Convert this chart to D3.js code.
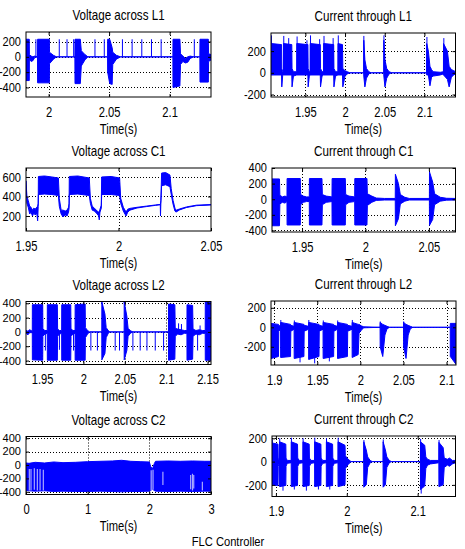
<!DOCTYPE html>
<html>
<head>
<meta charset="utf-8">
<script src="https://cdn.jsdelivr.net/npm/d3@7"></script>
<style>
  body { margin: 0; background: #fff; }
  text { font-family: "Liberation Sans", Arial, sans-serif; fill: #000; }
</style>
</head>
<body>
<svg width="465" height="549"></svg>
<script>
// ---- titles ----
const titles = ["Voltage across L1", "Current through L1", "Voltage across C1", "Current through C1",
                "Voltage across L2", "Current through L2", "Voltage across C2", "Current through C2"];
const footer = "FLC Controller";

// ---- axes (ranges and ticks) ----
const vL1XDomain = [1.9813, 2.1342], vL1YDomain = [-525, 325];
const vL1XTicks = [2, 2.05, 2.1], vL1YTicks = [-400, -200, 0, 200];
const iL1XDomain = [1.9067, 2.1392], iL1YDomain = [-223, 367];
const iL1XTicks = [1.95, 2, 2.05, 2.1], iL1YTicks = [-200, 0, 200];
const vC1XDomain = [1.95, 2.05], vC1YDomain = [46, 692];
const vC1XTicks = [1.95, 2, 2.05], vC1YTicks = [200, 400, 600];
const iC1XDomain = [1.9263, 2.071], iC1YDomain = [-420, 400];
const iC1XTicks = [1.95, 2, 2.05], iC1YTicks = [-400, -200, 0, 200, 400];
const vL2XDomain = [1.9306, 2.1542], vL2YDomain = [-455, 425];
const vL2XTicks = [1.95, 2, 2.05, 2.1, 2.15], vL2YTicks = [-400, -200, 0, 200, 400];
const iL2XDomain = [1.8963, 2.111], iL2YDomain = [-387, 270];
const iL2XTicks = [1.9, 1.95, 2, 2.05, 2.1], iL2YTicks = [-200, 0, 200];
const vC2XDomain = [0, 3], vC2YDomain = [-440, 425];
const vC2XTicks = [0, 1, 2, 3], vC2YTicks = [-400, -200, 0, 200, 400];
const iC2XDomain = [1.8945, 2.1534], iC2YDomain = [-300, 220];
const iC2XTicks = [1.9, 2, 2.1], iC2YTicks = [-200, 0, 200];

// ---- waveforms: envelope points [time, low, high] of the dense switching signal ----
const vL1Env = [
  [1.9813, -310, 230], [1.9840, -310, 230], [1.9841, -30, 30], [1.9855, -60, 10], [1.9870, -50, 0],
  [1.9885, -10, 10], [1.9908, 0, 0], [1.9909, -340, 230], [2.0006, -340, 230], [2.0007, -90, 60],
  [2.0040, -30, 20], [2.0065, 0, 0], [2.0217, 0, 0], [2.0218, -350, 230], [2.0262, -350, 230],
  [2.0270, -120, 80], [2.0300, -40, 30], [2.0325, 0, 0], [2.0487, 0, 0], [2.0488, -200, 230],
  [2.0505, -350, 230], [2.0525, -360, 120], [2.0530, -100, 60], [2.0560, -30, 20], [2.0595, 0, 0],
  [2.1027, 0, 0], [2.1028, -400, 230], [2.1085, -380, 230], [2.1090, -100, 40], [2.1110, -60, 10],
  [2.1130, -80, -20], [2.1150, -70, 0], [2.1170, -20, 10], [2.1200, 0, 0], [2.1250, 0, 0],
  [2.1251, -330, 230], [2.1320, -330, 230], [2.1322, -60, 40], [2.1342, -40, 30]
];
const vL1Spikes = [
  [1.9895, -10, 230], [2.0088, 0, 230], [2.0152, 0, 230], [2.0207, 0, 230], [2.0383, 0, 230],
  [2.0460, 0, 230], [2.0610, 0, 230], [2.0690, 0, 230], [2.0770, 0, 230], [2.0850, 0, 230],
  [2.0930, 0, 230], [2.1204, 0, 230]
];

const iL1Env = [
  [1.9067, -20, 270], [1.9200, -20, 260], [1.9203, -130, 40], [1.9215, -20, 10], [1.9223, -20, 10],
  [1.9224, -20, 270], [1.9329, -20, 260], [1.9332, -130, 40], [1.9350, -30, 10], [1.9391, -20, 10],
  [1.9392, -20, 270], [1.9532, -20, 260], [1.9535, -130, 40], [1.9550, -30, 10], [1.9560, -20, 10],
  [1.9561, -20, 270], [1.9688, -20, 260], [1.9691, -130, 40], [1.9710, -30, 10], [1.9729, -20, 10],
  [1.9730, -20, 270], [1.9857, -20, 260], [1.9860, -130, 40], [1.9880, -30, 10], [1.9910, -20, 10],
  [1.9911, -20, 270], [1.9968, -20, 260], [1.9972, -130, 40], [2.0000, -30, 20], [2.0030, -10, 10],
  [2.0060, 0, 0], [2.0235, 0, 0], [2.0236, -30, 300], [2.0250, -130, 120], [2.0270, -50, 40],
  [2.0300, -10, 10], [2.0330, 0, 0], [2.0488, 0, 0], [2.0489, -30, 300], [2.0503, -130, 120],
  [2.0525, -50, 40], [2.0555, -10, 10], [2.0590, 0, 0], [2.1028, 0, 0], [2.1029, -20, 270],
  [2.1050, -20, 200], [2.1070, -120, 60], [2.1090, -40, 30], [2.1110, -30, 10], [2.1200, -20, 5],
  [2.1240, -10, 10], [2.1241, -20, 270], [2.1290, -60, 200], [2.1312, -130, 60], [2.1340, -40, 30],
  [2.1370, -20, 20], [2.1392, -10, 10]
];
const iL1Spikes = [
  [1.9072, 0, 345], [1.9228, 0, 340], [1.9290, 0, 320], [1.9396, 0, 335], [1.9520, 0, 300],
  [1.9565, 0, 345], [1.9680, 0, 310], [1.9735, 0, 340], [1.9850, 0, 320], [1.9915, 0, 345],
  [2.0237, 0, 340], [2.0490, 0, 345], [2.1032, 0, 330], [2.1245, 0, 320]
];

const vC1Env = [
  [1.9500, 520, 560], [1.9505, 330, 400], [1.9512, 290, 360], [1.9520, 220, 300], [1.9527, 240, 290],
  [1.9535, 200, 260], [1.9542, 230, 280], [1.9550, 210, 270], [1.9558, 230, 290], [1.9563, 150, 300],
  [1.9566, 300, 330], [1.9567, 420, 605], [1.9600, 425, 610], [1.9640, 420, 600], [1.9675, 410, 590],
  [1.9680, 300, 380], [1.9690, 220, 260], [1.9700, 190, 260], [1.9712, 210, 250], [1.9722, 200, 260],
  [1.9730, 240, 290], [1.9733, 280, 330], [1.9734, 420, 605], [1.9780, 425, 610], [1.9842, 410, 590],
  [1.9848, 330, 380], [1.9858, 260, 300], [1.9870, 250, 280], [1.9885, 220, 250], [1.9893, 200, 240],
  [1.9896, 160, 240], [1.9900, 240, 270], [1.9907, 280, 310], [1.9909, 420, 600], [1.9960, 420, 605],
  [2.0006, 410, 590], [2.0012, 330, 380], [2.0026, 250, 290], [2.0041, 200, 240], [2.0050, 240, 270],
  [2.0062, 260, 278], [2.0100, 282, 289], [2.0150, 296, 301], [2.0200, 309, 313], [2.0226, 315, 319],
  [2.0227, 200, 320], [2.0229, 330, 360], [2.0233, 510, 640], [2.0255, 520, 645], [2.0278, 500, 620],
  [2.0285, 420, 480], [2.0295, 320, 360], [2.0305, 250, 280], [2.0311, 240, 258], [2.0330, 262, 272],
  [2.0368, 287, 293], [2.0422, 306, 311], [2.0500, 313, 317]
];

const iC1Env = [
  [1.9263, -340, 260], [1.9322, -340, 260], [1.9325, -60, 50], [1.9345, -40, 30], [1.9365, -50, 40],
  [1.9381, -30, 30], [1.9382, -330, 265], [1.9486, -330, 265], [1.9489, -70, 60], [1.9510, -40, 40],
  [1.9535, -30, 30], [1.9557, -30, 30], [1.9558, -330, 265], [1.9657, -330, 265], [1.9660, -70, 60],
  [1.9690, -40, 40], [1.9736, -30, 30], [1.9737, -330, 265], [1.9841, -330, 265], [1.9844, -70, 60],
  [1.9870, -40, 40], [1.9915, -30, 30], [1.9916, -330, 265], [2.0012, -330, 265], [2.0015, -80, 70],
  [2.0050, -40, 40], [2.0085, -15, 15], [2.0150, -10, 10], [2.0235, -10, 10], [2.0236, -340, 320],
  [2.0260, -250, 200], [2.0275, -60, 60], [2.0310, -25, 25], [2.0345, -10, 10], [2.0504, -10, 10],
  [2.0505, -335, 350], [2.0530, -260, 220], [2.0545, -70, 70], [2.0590, -25, 25], [2.0640, -12, 12],
  [2.0710, -10, 10]
];

const vL2Env = [
  [1.9306, -20, 20], [1.9330, -40, 10], [1.9350, -10, 30], [1.9382, -10, 10], [1.9383, -390, 380],
  [1.9508, -395, 380], [1.9510, -60, 40], [1.9535, -30, 20], [1.9563, -20, 20], [1.9564, -395, 380],
  [1.9685, -395, 380], [1.9688, -60, 40], [1.9710, -30, 20], [1.9737, -20, 20], [1.9738, -395, 380],
  [1.9847, -395, 380], [1.9850, -60, 40], [1.9875, -30, 20], [1.9899, -20, 20], [1.9900, -395, 380],
  [2.0021, -395, 390], [2.0024, -80, 60], [2.0050, -30, 20], [2.0075, 0, 0], [2.0222, 0, 0],
  [2.0223, -390, 420], [2.0260, -300, 250], [2.0275, -80, 60], [2.0300, -20, 20], [2.0320, 0, 0],
  [2.0492, 0, 0], [2.0493, -390, 420], [2.0525, -260, 220], [2.0540, -60, 50], [2.0570, -15, 15],
  [2.0600, 0, 0], [2.1028, 0, 0], [2.1029, -395, 390], [2.1105, -380, 380], [2.1110, -60, 50],
  [2.1140, -30, 40], [2.1180, -40, 30], [2.1220, -20, 20], [2.1251, -20, 20], [2.1252, -395, 380],
  [2.1320, -380, 370], [2.1325, -60, 40], [2.1360, -30, 20], [2.1400, -40, 30], [2.1440, -20, 20],
  [2.1472, -20, 20], [2.1473, -395, 420], [2.1542, -395, 420]
];
const vL2Spikes = [
  [1.9540, -260, 0], [1.9710, -250, 0], [1.9880, -260, 0], [2.0090, -260, 0], [2.0169, -260, 0],
  [2.0384, -260, 0], [2.0436, -260, 0], [2.0598, -260, 0], [2.0686, -260, 0], [2.0768, -260, 0],
  [2.0868, -260, 0], [2.0969, -260, 0], [2.1380, -260, 0], [2.1150, 0, 120], [2.1185, 0, 110],
  [2.1410, 0, 90]
];

const iL2Env = [
  [1.8963, -320, 40], [1.9050, -300, 30], [1.9053, -40, 20], [1.9074, -20, 10], [1.9075, -310, 50],
  [1.9190, -300, 30], [1.9193, -40, 20], [1.9231, -20, 10], [1.9232, -320, 50], [1.9345, -300, 30],
  [1.9348, -40, 20], [1.9399, -20, 10], [1.9400, -330, 50], [1.9520, -300, 30], [1.9523, -40, 20],
  [1.9567, -20, 10], [1.9568, -320, 50], [1.9690, -300, 30], [1.9693, -40, 20], [1.9734, -20, 10],
  [1.9735, -320, 50], [1.9850, -300, 30], [1.9853, -40, 20], [1.9904, -20, 10], [1.9905, -310, 50],
  [1.9975, -280, 30], [1.9985, -60, 30], [2.0010, -30, 15], [2.0040, -5, 5], [2.0229, 0, 0],
  [2.0230, -200, 50], [2.0260, -300, 30], [2.0285, -80, 20], [2.0310, -15, 10], [2.0340, 0, 0],
  [2.0501, 0, 0], [2.0502, -200, 50], [2.0530, -320, 30], [2.0555, -80, 20], [2.0580, -15, 10],
  [2.0610, 0, 0], [2.1043, 0, 0], [2.1044, -300, 40], [2.1110, -380, 40]
];
const iL2Spikes = [
  [1.9077, 0, 75], [1.9234, 0, 70], [1.9402, 0, 75], [1.9570, 0, 70], [1.9737, 0, 70],
  [1.9907, 0, 75], [2.0231, 0, 60], [2.0503, 0, 60], [1.9300, -360, 0], [1.9470, -370, 0],
  [1.9640, -350, 0]
];

const vC2Env = [
  [0.00, -380, 30], [0.05, -385, 25], [0.15, -390, 40], [0.30, -385, 30], [0.45, -395, 45],
  [0.60, -390, 35], [0.80, -395, 40], [1.00, -395, 50], [1.20, -390, 55], [1.40, -395, 60],
  [1.55, -400, 70], [1.70, -395, 55], [1.85, -395, 50], [2.00, -390, 45], [2.02, -380, -20],
  [2.05, -360, -60], [2.08, -380, 20], [2.10, -390, 55], [2.30, -395, 60], [2.50, -390, 55],
  [2.70, -395, 60], [2.90, -390, 55], [3.00, -390, 55]
];
// lighter, sparse vertical streaks inside the dense band
const vC2Streaks = [
  [0.054, -380, -60], [0.081, -380, -60], [0.135, -370, -50], [0.184, -380, -60], [0.228, -380, -60],
  [0.281, -380, -70], [2.03, -380, -80], [2.06, -370, -70], [2.22, -300, -100], [2.67, -360, -150],
  [2.70, -380, -130], [2.72, -350, -150], [2.86, -380, -250]
];

const iC2Env = [
  [1.8945, -200, 160], [1.9030, -205, 150], [1.9033, -40, 30], [1.9045, -15, 10], [1.9051, -10, 10],
  [1.9052, -215, 170], [1.9140, -205, 150], [1.9143, -40, 30], [1.9160, -15, 10], [1.9216, -10, 10],
  [1.9217, -215, 170], [1.9305, -205, 150], [1.9308, -40, 30], [1.9330, -15, 10], [1.9381, -10, 10],
  [1.9382, -215, 170], [1.9470, -205, 150], [1.9473, -40, 30], [1.9495, -15, 10], [1.9546, -10, 10],
  [1.9547, -215, 170], [1.9635, -205, 150], [1.9638, -40, 30], [1.9660, -15, 10], [1.9711, -10, 10],
  [1.9712, -215, 170], [1.9800, -205, 150], [1.9803, -40, 30], [1.9825, -15, 10], [1.9876, -10, 10],
  [1.9877, -215, 170], [1.9975, -200, 140], [1.9980, -60, 50], [2.0020, -25, 20], [2.0060, 0, 0],
  [2.0239, 0, 0], [2.0240, -220, 170], [2.0275, -200, 100], [2.0295, -50, 40], [2.0330, -10, 10],
  [2.0360, 0, 0], [2.0512, 0, 0], [2.0513, -220, 170], [2.0545, -200, 100], [2.0565, -50, 40],
  [2.0600, -10, 10], [2.0630, 0, 0], [2.1039, 0, 0], [2.1040, -240, 170], [2.1100, -210, 140],
  [2.1115, -60, 40], [2.1140, -30, 20], [2.1180, -20, 10], [2.1299, -10, 10], [2.1300, -215, 165],
  [2.1360, -200, 120], [2.1375, -50, 30], [2.1420, -30, 20], [2.1450, -40, 30], [2.1490, -20, 10],
  [2.1534, -10, 10]
];
const iC2Spikes = [
  [1.8950, 0, 190], [1.9054, 0, 200], [1.9219, 0, 205], [1.9384, 0, 200], [1.9549, 0, 205],
  [1.9714, 0, 200], [1.9879, 0, 205], [2.0242, 0, 185], [2.0515, 0, 190], [2.1042, 0, 195],
  [2.1302, 0, 185], [1.9100, -250, 0], [1.9260, -240, 0], [1.9430, -250, 0], [1.9600, -240, 0],
  [1.9760, -240, 0], [2.1050, -275, 0]
];

// ---- layout: plot boxes [left, top, right, bottom] ----
const panels = [
  { title: titles[0], env: vL1Env, spikes: vL1Spikes, xDom: vL1XDomain, yDom: vL1YDomain, xTicks: vL1XTicks, yTicks: vL1YTicks, box: [26, 32, 211, 97] },
  { title: titles[1], env: iL1Env, spikes: iL1Spikes, xDom: iL1XDomain, yDom: iL1YDomain, xTicks: iL1XTicks, yTicks: iL1YTicks, box: [271, 33, 455.5, 97] },
  { title: titles[2], env: vC1Env, spikes: [], xDom: vC1XDomain, yDom: vC1YDomain, xTicks: vC1XTicks, yTicks: vC1YTicks, box: [26, 168, 211, 231] },
  { title: titles[3], env: iC1Env, spikes: [], xDom: iC1XDomain, yDom: iC1YDomain, xTicks: iC1XTicks, yTicks: iC1YTicks, box: [272, 168, 455.5, 232] },
  { title: titles[4], env: vL2Env, spikes: vL2Spikes, xDom: vL2XDomain, yDom: vL2YDomain, xTicks: vL2XTicks, yTicks: vL2YTicks, box: [26, 301.5, 211, 364.5] },
  { title: titles[5], env: iL2Env, spikes: iL2Spikes, xDom: iL2XDomain, yDom: iL2YDomain, xTicks: iL2XTicks, yTicks: iL2YTicks, box: [271, 301, 456, 365] },
  { title: titles[6], env: vC2Env, spikes: [], streaks: vC2Streaks, xDom: vC2XDomain, yDom: vC2YDomain, xTicks: vC2XTicks, yTicks: vC2YTicks, box: [26, 436.5, 211, 494.5] },
  { title: titles[7], env: iC2Env, spikes: iC2Spikes, xDom: iC2XDomain, yDom: iC2YDomain, xTicks: iC2XTicks, yTicks: iC2YTicks, box: [272, 436, 455.5, 496.5] }
];

const svg = d3.select("svg");
const blue = "#0000ff";

panels.forEach((p, i) => {
  const [x0, y0, x1, y1] = p.box;
  const x = d3.scaleLinear().domain(p.xDom).range([x0, x1]);
  const y = d3.scaleLinear().domain(p.yDom).range([y1, y0]);
  const g = svg.append("g");

  g.append("clipPath").attr("id", "clip" + i)
    .append("rect").attr("x", x0).attr("y", y0).attr("width", x1 - x0).attr("height", y1 - y0);

  // dotted grid
  g.append("g").selectAll("line")
    .data(p.xTicks.filter(t => x(t) > x0 + 1 && x(t) < x1 - 1))
    .join("line")
      .attr("x1", d => Math.round(x(d)) + 0.5).attr("x2", d => Math.round(x(d)) + 0.5)
      .attr("y1", y0).attr("y2", y1)
      .attr("stroke", "#000").attr("stroke-dasharray", "1,2");
  g.append("g").selectAll("line")
    .data(p.yTicks.filter(t => y(t) > y0 + 1 && y(t) < y1 - 1))
    .join("line")
      .attr("y1", d => Math.round(y(d)) + 0.5).attr("y2", d => Math.round(y(d)) + 0.5)
      .attr("x1", x0).attr("x2", x1)
      .attr("stroke", "#000").attr("stroke-dasharray", "1,2");

  // signal
  const plot = g.append("g").attr("clip-path", `url(#clip${i})`);
  plot.append("path")
    .datum(p.env)
    .attr("d", d3.area().x(d => x(d[0])).y0(d => y(d[1])).y1(d => y(d[2])))
    .attr("fill", blue)
    .attr("stroke", blue)
    .attr("stroke-width", 1);
  plot.selectAll(".spike")
    .data(p.spikes)
    .join("line")
      .attr("x1", d => x(d[0])).attr("x2", d => x(d[0]))
      .attr("y1", d => y(d[1])).attr("y2", d => y(d[2]))
      .attr("stroke", blue).attr("stroke-width", 1);
  if (p.streaks) {
    plot.selectAll(".streak")
      .data(p.streaks)
      .join("line")
        .attr("x1", d => x(d[0])).attr("x2", d => x(d[0]))
        .attr("y1", d => y(d[1])).attr("y2", d => y(d[2]))
        .attr("stroke", "#a8a8ff").attr("stroke-width", 1.2);
  }

  // box and inward ticks
  g.append("rect")
    .attr("x", x0).attr("y", y0).attr("width", x1 - x0).attr("height", y1 - y0)
    .attr("fill", "none").attr("stroke", "#000").attr("stroke-width", 1);

  const bottom = g.append("g").attr("transform", `translate(0,${y1})`)
    .call(d3.axisBottom(x).tickValues(p.xTicks).tickSize(-3).tickFormat(d => String(d)));
  bottom.select(".domain").remove();
  bottom.selectAll("text")
    .attr("y", 0).attr("dy", 0)
    .attr("transform", "translate(0,19.5) scale(0.8,1)")
    .style("font-size", "14px").style("font-family", null);

  const top = g.append("g").attr("transform", `translate(0,${y0})`)
    .call(d3.axisTop(x).tickValues(p.xTicks).tickSize(-3).tickFormat(""));
  top.select(".domain").remove();

  // y labels shrink a little where the ticks sit close together
  const gap = Math.abs(y(p.yTicks[1]) - y(p.yTicks[0]));
  const fs = Math.min(13, gap * 0.78);
  const sx = 0.85 * 13 / fs;
  const left = g.append("g").attr("transform", `translate(${x0},0)`)
    .call(d3.axisLeft(y).tickValues(p.yTicks).tickSize(-3).tickFormat(d => String(d)));
  left.select(".domain").remove();
  left.selectAll("text")
    .attr("x", 0)
    .attr("transform", `translate(-5,0) scale(${sx},1)`)
    .style("font-size", fs + "px").style("font-family", null);

  const right = g.append("g").attr("transform", `translate(${x1},0)`)
    .call(d3.axisRight(y).tickValues(p.yTicks).tickSize(-3).tickFormat(""));
  right.select(".domain").remove();

  svg.selectAll(".tick line").attr("stroke", "#000");
  g.attr("font-family", null);

  // title and axis label
  const cx = (x0 + x1) / 2;
  g.append("text")
    .attr("transform", `translate(${cx},${y0 - 12}) scale(0.8,1)`)
    .attr("text-anchor", "middle")
    .style("font-size", "14.5px")
    .text(p.title);
  g.append("text")
    .attr("transform", `translate(${cx},${y1 + 36.5}) scale(0.8,1)`)
    .attr("text-anchor", "middle")
    .style("font-size", "14px")
    .text("Time(s)");
});

svg.append("text")
  .attr("transform", "translate(228,546) scale(0.86,1)")
  .attr("text-anchor", "middle")
  .style("font-size", "13px")
  .text(footer);
</script>
</body>
</html>
